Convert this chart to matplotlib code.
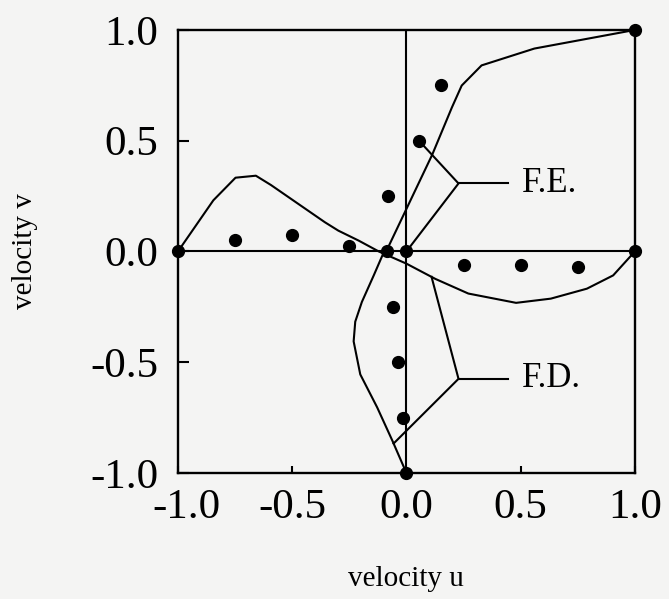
import matplotlib
matplotlib.use("Agg")
import matplotlib.pyplot as plt
import matplotlib.transforms as mtransforms
import numpy as np

# finite element results (dots): u along x=0, v along y=0
pos = [-1.0, -0.75, -0.5, -0.25, 0.0, 0.25, 0.5, 0.75, 1.0]
fe_u = [0.0, -0.015, -0.035, -0.06, -0.087, -0.08, 0.055, 0.15, 1.0]
fe_v = [0.0, 0.053, 0.076, 0.026, 0.0, -0.06, -0.06, -0.07, 0.0]

# finite difference results (lines)
fd_u_y = [-1.0, -0.853, -0.704, -0.555, -0.406, -0.317, -0.228, -0.108, -0.02,
          0.01, 0.437, 0.65, 0.749, 0.84, 0.916, 1.0]
fd_u = [0.0, -0.062, -0.128, -0.202, -0.231, -0.224, -0.195, -0.143, -0.106,
        -0.084, 0.113, 0.199, 0.242, 0.329, 0.56, 1.0]
fd_v_x = [-1.0, -0.845, -0.748, -0.659, -0.593, -0.475, -0.357, -0.298, -0.209,
          -0.121, 0.0, 0.127, 0.271, 0.48, 0.632, 0.79, 0.905, 1.0]
fd_v = [0.0, 0.231, 0.333, 0.342, 0.3, 0.216, 0.132, 0.094, 0.049,
        0.0, -0.055, -0.124, -0.19, -0.232, -0.213, -0.168, -0.108, 0.0]

ticks = [-1.0, -0.5, 0.0, 0.5, 1.0]
tick_labels = ["-1.0", "-0.5", "0.0", "0.5", "1.0"]

plt.rcParams['font.family'] = ['Liberation Serif', 'DejaVu Serif']
bg = '#f4f4f3'
lw = 1.5

fig = plt.figure(figsize=(6.69, 5.99), dpi=100, facecolor=bg)
ax = fig.add_axes([0.266, 0.2104, 0.683, 0.7396], facecolor=bg)

ax.axhline(0, color='black', lw=lw, zorder=1)
ax.axvline(0, color='black', lw=lw, zorder=1)

ax.plot(fd_u, fd_u_y, color='black', lw=lw, zorder=2)
ax.plot(fd_v_x, fd_v, color='black', lw=lw, zorder=2)

ax.plot(fe_u, pos, 'o', color='black', ms=8.5, zorder=3, clip_on=False)
ax.plot(pos, fe_v, 'o', color='black', ms=8.5, zorder=3, clip_on=False)

# leader lines for the labels
fe_joint = (0.228, 0.307)
ax.plot([fe_u[6], fe_joint[0], 0.0], [pos[6], fe_joint[1], 0.0], color='black', lw=lw)
ax.plot([fe_joint[0], 0.445], [fe_joint[1], fe_joint[1]], color='black', lw=lw)
ax.text(0.505, fe_joint[1], "F.E.", fontsize=25, ha='left', va='center')

fd_joint = (0.228, -0.575)
fd_top = (0.11, float(np.interp(0.11, fd_v_x, fd_v)))
fd_bot_y = -0.867
fd_bot = (float(np.interp(fd_bot_y, fd_u_y, fd_u)), fd_bot_y)
ax.plot([fd_top[0], fd_joint[0], fd_bot[0]], [fd_top[1], fd_joint[1], fd_bot[1]],
        color='black', lw=lw)
ax.plot([fd_joint[0], 0.445], [fd_joint[1], fd_joint[1]], color='black', lw=lw)
ax.text(0.505, fd_joint[1], "F.D.", fontsize=25, ha='left', va='center')

ax.set_xlim(-1, 1)
ax.set_ylim(-1, 1)
ax.set_xticks(ticks)
ax.set_xticklabels(tick_labels)
ax.set_yticks(ticks)
ax.set_yticklabels(tick_labels)
ax.tick_params(axis='x', direction='in', length=5, width=lw, labelsize=31, pad=11)
ax.tick_params(axis='y', direction='in', length=8, width=lw, labelsize=31, pad=14)
for s in ax.spines.values():
    s.set_linewidth(1.7)

# nudge the first x label right so it clears the y label
first = ax.get_xticklabels()[0]
first.set_transform(first.get_transform() +
                    mtransforms.ScaledTranslation(6 / 72, 0, fig.dpi_scale_trans))

ax.set_xlabel("velocity u", fontsize=21, labelpad=28)
ax.set_ylabel("velocity v", fontsize=21, labelpad=38)

fig.savefig("out.png", dpi=100, facecolor=bg)
